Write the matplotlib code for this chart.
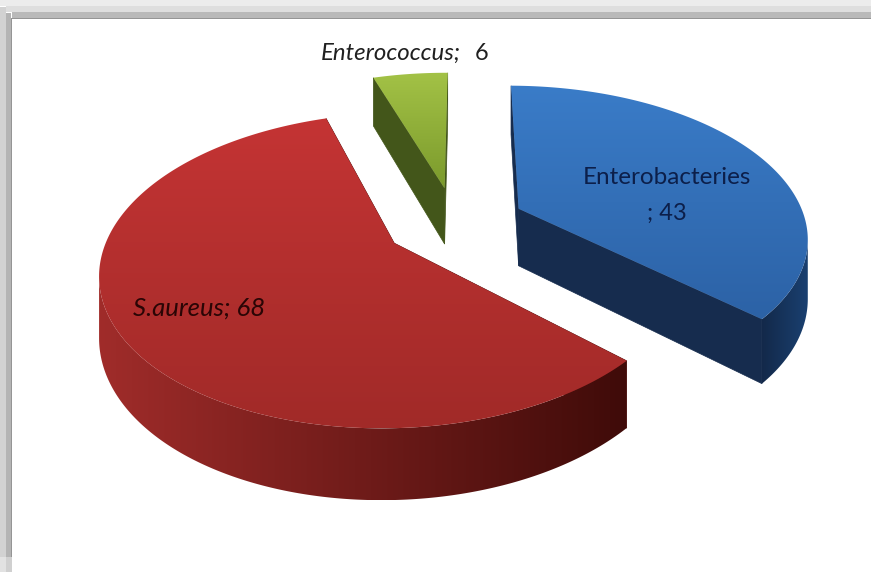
import numpy as np
import matplotlib
matplotlib.use("Agg")
import matplotlib.pyplot as plt
from matplotlib.colors import LinearSegmentedColormap
from matplotlib.patches import Polygon, Rectangle

# slices, clockwise from the start angle
names = ["Enterobacteries", "S.aureus", "Enterococcus"]
values = [43, 68, 6]

top_colors = [("#3a7cc8", "#2c62a6"), ("#c43434", "#a12a28"), ("#a3c246", "#7b9a2c")]
wall_colors = [("#13294a", "#1a4070"), ("#a02c2a", "#3f0b09"), ("#43561a", "#43561a")]
cut_colors = ["#162c4e", "#5a1412", "#43561a"]
radius_scale = [1.02, 1.0, 1.0]

# pie geometry, in pixels of the figure
CX, CY = 455, 223
RX, RY = 282, 146
PERSP = 0.17
THICK = 58
EXPLODE = 0.25
START = 0.4

plt.rcParams["font.family"] = ["Lato", "DejaVu Sans"]
fig = plt.figure(figsize=(8.71, 5.72), dpi=100)
ax = fig.add_axes([0, 0, 1, 1])
ax.set_xlim(0, 871)
ax.set_ylim(572, 0)
ax.axis("off")


def project(wx, wy, depth=0.0):
    w = 1 - PERSP * wy
    return CX + RX * wx / w, CY + (RY * wy + depth * THICK) / w


def fill_gradient(pts, pair, horizontal, zorder):
    # paint a two colour gradient and clip it to the polygon
    outline = Polygon(pts, closed=True, fc="none", ec="none", transform=ax.transData)
    ax.add_patch(outline)
    xs = [p[0] for p in pts]
    ys = [p[1] for p in pts]
    grad = np.linspace(0, 1, 256).reshape(1, -1) if horizontal else np.linspace(0, 1, 256).reshape(-1, 1)
    cmap = LinearSegmentedColormap.from_list("shade", pair)
    im = ax.imshow(grad, cmap=cmap, aspect="auto", zorder=zorder,
                   extent=(min(xs), max(xs), max(ys), min(ys)))
    im.set_clip_path(outline)


def draw_slice(a0, a1, scale, top_pair, wall_pair, cut_color):
    mid = np.radians((a0 + a1) / 2)
    ox, oy = EXPLODE * np.sin(mid), -EXPLODE * np.cos(mid)
    th = np.radians(np.linspace(a0, a1, 360))
    wx, wy = ox + scale * np.sin(th), oy - scale * np.cos(th)

    # the two cut faces
    for k in (0, -1):
        xs = [ox, wx[k], wx[k], ox]
        ys = [oy, wy[k], wy[k], oy]
        ds = [0, 0, 1, 1]
        pts = [project(x, y, d) for x, y, d in zip(xs, ys, ds)]
        ax.add_patch(Polygon(pts, closed=True, fc=cut_color, ec=cut_color, lw=0.5, zorder=2))

    # outer wall, only the part of the rim that faces the viewer
    tx, ty = project(wx, wy)
    bx, by = project(wx, wy, 1.0)
    front = np.where(np.diff(tx) < 0)[0]
    if len(front) > 1:
        i0, i1 = front[0], front[-1] + 2
        wall = list(zip(tx[i0:i1], ty[i0:i1])) + list(zip(bx[i0:i1][::-1], by[i0:i1][::-1]))
        pair = wall_pair
        fill_gradient(wall, pair, True, 3)

    # top face
    fill_gradient([project(ox, oy)] + list(zip(tx, ty)), top_pair, False, 4)


angles = np.cumsum([0] + [v / sum(values) * 360 for v in values]) + START
for i in range(len(values)):
    draw_slice(angles[i], angles[i + 1], radius_scale[i], top_colors[i], wall_colors[i], cut_colors[i])
ax.set_xlim(0, 871)
ax.set_ylim(572, 0)

# grey border along the top and left sides
for y0, y1, col in [(0, 6, "#ececec"), (6, 12, "#dedede"), (12, 18, "#b9b9b9"), (18, 19, "#959595")]:
    ax.add_patch(Rectangle((min(y0, 12), y0), 871, y1 - y0, fc=col, ec="none", zorder=6))
for x0, x1, col in [(0, 6, "#d2d2d2"), (6, 11, "#b4b4b4"), (11, 12, "#959595")]:
    ax.add_patch(Rectangle((x0, x0 + 7), x1 - x0, 572 - 15 - x0 - 7, fc=col, ec="none", zorder=6))
for x0, x1, col in [(0, 6, "#e2e2e2"), (6, 12, "#d0d0d0")]:
    ax.add_patch(Rectangle((x0, 557), x1 - x0, 15, fc=col, ec="none", zorder=6))

# data labels
ax.text(321, 53, names[2] + ";", style="italic", fontsize=17.3, color="#202020",
        ha="left", va="center", zorder=7)
ax.text(475, 53, str(values[2]), fontsize=17, color="#202020", ha="left", va="center", zorder=7)
ax.text(667, 178, names[0], fontsize=17.5, color="#0c1f4a", ha="center", va="center", zorder=7)
ax.text(667, 213, "; " + str(values[0]), fontsize=17, color="#0c1f4a", ha="center", va="center", zorder=7)
ax.text(133, 308, names[1] + "; " + str(values[1]), style="italic", fontsize=18.5, color="#2a0505",
        ha="left", va="center", zorder=7)

fig.savefig("out.png", dpi=100)
